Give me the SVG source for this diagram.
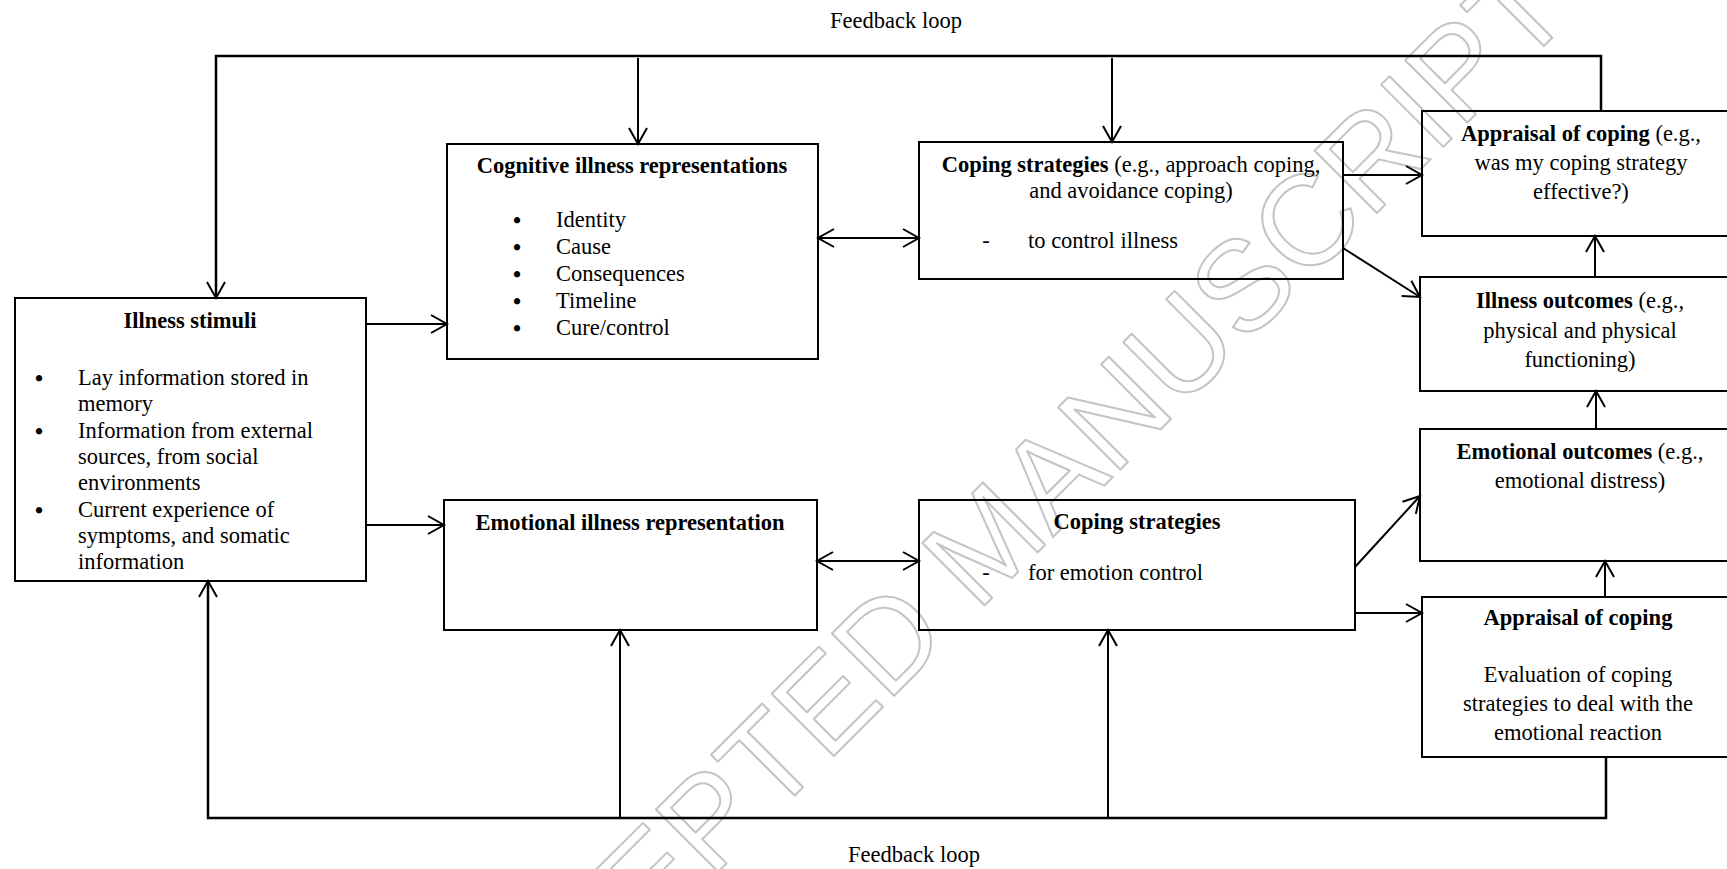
<svg xmlns="http://www.w3.org/2000/svg" width="1727" height="869" viewBox="0 0 1727 869">
<style>
.bg{fill:#fff}
.box{fill:none;stroke:#000;stroke-width:2}
.t{font-family:"Liberation Serif","Times New Roman",serif;font-size:22.5px;fill:#000}
.b{font-weight:bold}
.c{text-anchor:middle}
.bu{font-family:"Liberation Serif","Times New Roman",serif;font-size:23px;font-weight:bold;fill:#000;text-anchor:middle}
.ln{fill:none;stroke:#000;stroke-width:2}
.loop{fill:none;stroke:#000;stroke-width:2.5;stroke-linejoin:miter}
.wm{font-family:"Liberation Sans",Arial,sans-serif;font-size:128px;fill:none;stroke:#c4c4c4;stroke-width:2;stroke-linejoin:round}
</style>
<defs>
<marker id="ah" viewBox="-20 -12 24 24" markerWidth="24" markerHeight="24" refX="0" refY="0" orient="auto-start-reverse" markerUnits="userSpaceOnUse">
<path d="M-16,-9 L0,0 L-16,9" fill="none" stroke="#000" stroke-width="2"/>
</marker>
</defs>
<rect class="bg" x="0" y="0" width="1727" height="869"/>
<text class="wm" transform="translate(985,540) rotate(-45)" text-anchor="middle" y="46">ACCEPTED MANUSCRIPT</text>

<g id="connectors">
<path class="loop" d="M1601,111 L1601,56 L216,56 L216,298" marker-end="url(#ah)"/>
<path class="ln" d="M638,58 L638,144" marker-end="url(#ah)"/>
<path class="ln" d="M1112,58 L1112,142" marker-end="url(#ah)"/>
<path class="loop" d="M1606,757 L1606,818 L208,818 L208,581" marker-end="url(#ah)"/>
<path class="ln" d="M620,818 L620,630" marker-end="url(#ah)"/>
<path class="ln" d="M1108,818 L1108,630" marker-end="url(#ah)"/>
<path class="ln" d="M366,324 L447,324" marker-end="url(#ah)"/>
<path class="ln" d="M366,525 L444,525" marker-end="url(#ah)"/>
<path class="ln" d="M818,238 L919,238" marker-start="url(#ah)" marker-end="url(#ah)"/>
<path class="ln" d="M817,561 L919,561" marker-start="url(#ah)" marker-end="url(#ah)"/>
<path class="ln" d="M1343,175 L1422,175" marker-end="url(#ah)"/>
<path class="ln" d="M1343,248 L1420,297" marker-end="url(#ah)"/>
<path class="ln" d="M1355,567 L1420,496" marker-end="url(#ah)"/>
<path class="ln" d="M1355,613 L1422,613" marker-end="url(#ah)"/>
<path class="ln" d="M1595,277 L1595,236" marker-end="url(#ah)"/>
<path class="ln" d="M1596,429 L1596,391" marker-end="url(#ah)"/>
<path class="ln" d="M1605,597 L1605,561" marker-end="url(#ah)"/>
</g>

<g id="labels">
<text class="t c" x="896" y="28">Feedback loop</text>
<text class="t c" x="914" y="862">Feedback loop</text>
</g>

<g id="illness-stimuli">
<rect class="box" x="15" y="298" width="351" height="283"/>
<text class="t b c" x="190" y="328">Illness stimuli</text>
<text class="bu" x="39" y="386">•</text>
<text class="bu" x="39" y="439">•</text>
<text class="bu" x="39" y="518">•</text>
<text class="t" x="78" y="385">Lay information stored in</text>
<text class="t" x="78" y="411">memory</text>
<text class="t" x="78" y="438">Information from external</text>
<text class="t" x="78" y="464">sources, from social</text>
<text class="t" x="78" y="490">environments</text>
<text class="t" x="78" y="517">Current experience of</text>
<text class="t" x="78" y="543">symptoms, and somatic</text>
<text class="t" x="78" y="569">information</text>
</g>

<g id="cognitive-representations">
<rect class="box" x="447" y="144" width="371" height="215"/>
<text class="t b c" x="632" y="173">Cognitive illness representations</text>
<text class="bu" x="517" y="228">•</text>
<text class="bu" x="517" y="255">•</text>
<text class="bu" x="517" y="282">•</text>
<text class="bu" x="517" y="309">•</text>
<text class="bu" x="517" y="336">•</text>
<text class="t" x="556" y="227">Identity</text>
<text class="t" x="556" y="254">Cause</text>
<text class="t" x="556" y="281">Consequences</text>
<text class="t" x="556" y="308">Timeline</text>
<text class="t" x="556" y="335">Cure/control</text>
</g>

<g id="coping-illness">
<rect class="box" x="919" y="142" width="424" height="137"/>
<text class="t c" x="1131" y="172"><tspan class="b">Coping strategies</tspan> (e.g., approach coping,</text>
<text class="t c" x="1131" y="198">and avoidance coping)</text>
<text class="t c" x="986" y="248">-</text>
<text class="t" x="1028" y="248">to control illness</text>
</g>

<g id="appraisal-illness">
<rect class="box" x="1422" y="111" width="320" height="125"/>
<text class="t c" x="1581" y="141"><tspan class="b">Appraisal of coping</tspan> (e.g.,</text>
<text class="t c" x="1581" y="170">was my coping strategy</text>
<text class="t c" x="1581" y="199">effective?)</text>
</g>

<g id="illness-outcomes">
<rect class="box" x="1420" y="277" width="322" height="114"/>
<text class="t c" x="1580" y="308"><tspan class="b">Illness outcomes</tspan> (e.g.,</text>
<text class="t c" x="1580" y="338">physical and physical</text>
<text class="t c" x="1580" y="367">functioning)</text>
</g>

<g id="emotional-outcomes">
<rect class="box" x="1420" y="429" width="322" height="132"/>
<text class="t c" x="1580" y="459"><tspan class="b">Emotional outcomes</tspan> (e.g.,</text>
<text class="t c" x="1580" y="488">emotional distress)</text>
</g>

<g id="emotional-representation">
<rect class="box" x="444" y="500" width="373" height="130"/>
<text class="t b c" x="630" y="530">Emotional illness representation</text>
</g>

<g id="coping-emotion">
<rect class="box" x="919" y="500" width="436" height="130"/>
<text class="t b c" x="1137" y="529">Coping strategies</text>
<text class="t c" x="986" y="580">-</text>
<text class="t" x="1028" y="580">for emotion control</text>
</g>

<g id="appraisal-emotion">
<rect class="box" x="1422" y="597" width="320" height="160"/>
<text class="t b c" x="1578" y="625">Appraisal of coping</text>
<text class="t c" x="1578" y="682">Evaluation of coping</text>
<text class="t c" x="1578" y="711">strategies to deal with the</text>
<text class="t c" x="1578" y="740">emotional reaction</text>
</g>
</svg>
